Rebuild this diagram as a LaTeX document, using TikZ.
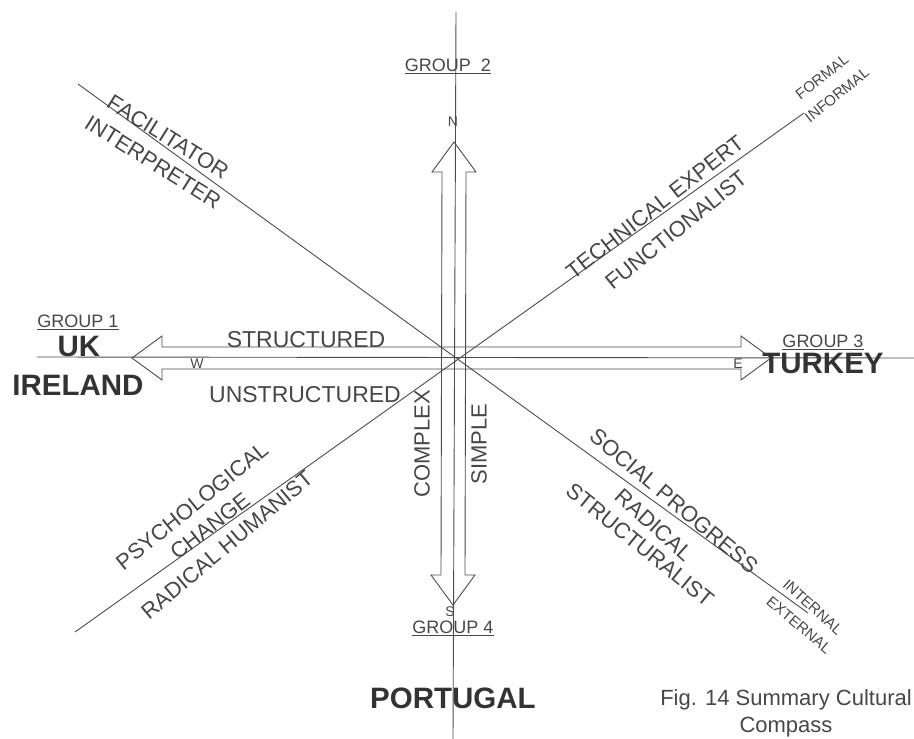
\documentclass[tikz,border=0pt]{standalone}
\usepackage{fontspec}
\setmainfont{Liberation Sans}
\usetikzlibrary{calc}

\begin{document}
\begin{tikzpicture}[
  x=1pt, y=-1pt,
  axis/.style={draw=black!70, line width=0.9pt},
  outline/.style={draw=black!70, line width=0.9pt, line join=miter},
  lbl/.style={text=black!72, inner sep=0pt, font=\fontsize{22}{26}\selectfont},
  hlbl/.style={lbl, font=\fontsize{23}{27}\selectfont},
  small/.style={lbl, font=\fontsize{15}{18}\selectfont},
  pt/.style={lbl, font=\fontsize{14}{16}\selectfont},
  grp/.style={lbl, font=\fontsize{18}{21}\selectfont},
  country/.style={lbl, text=black!80, font=\fontsize{29.5}{34}\selectfont\bfseries},
  caption/.style={lbl, align=center, font=\fontsize{22}{27}\selectfont}
]
\useasboundingbox (0,0) rectangle (914,739);

% Axes and diagonals
\coordinate (top) at (456,12);
\coordinate (bot) at (453,739);
\coordinate (left) at (37,357);
\coordinate (right) at (914,358);
\coordinate (nw) at (78,84);
\coordinate (se) at (808,613);
\coordinate (sw) at (75,632);
\coordinate (ne) at (804,113);

\draw[axis] (top) -- (bot);
\draw[axis] (left) -- (right);
\draw[axis] (nw) -- (se);
\draw[axis] (sw) -- (ne);

% Compass arrows
\coordinate (Wtip) at (132,358);
\coordinate (Etip) at (771,358);
\coordinate (Ntip) at (454,142);
\coordinate (Stip) at (453,605);

\draw[outline] (Wtip) -- ++(30,-22) -- ++(0,11) -- ($(Etip)+(-30,-11)$) -- ++(0,-11)
  -- (Etip) -- ++(-30,22) -- ++(0,-11) -- ($(Wtip)+(30,11)$) -- ++(0,11) -- cycle;
\draw[outline] (Ntip) -- ++(22,30) -- ++(-10,0) -- ($(Stip)+(12,-30)$) -- ++(10,0)
  -- (Stip) -- ++(-22,-30) -- ++(10,0) -- ($(Ntip)+(-12,30)$) -- ++(-10,0) -- cycle;

% Compass points
\node[pt] (n) at (453,122) {N};
\node[pt] (s) at (450,612) {S};
\node[pt] (w) at (197,364) {W};
\node[pt] (e) at (738,364) {E};

% Groups
\node[grp] (g1) at (78,322) {\underline{GROUP 1}};
\node[grp] (g2) at (448,66) {\underline{GROUP\ \ 2}};
\node[grp] (g3) at (823,342) {\underline{GROUP 3}};
\node[grp] (g4) at (453,628) {\underline{GROUP 4}};

\node[country] (uk) at (79,346) {UK};
\node[country] (ireland) at (78,385) {IRELAND};
\node[country] (turkey) at (823,363) {TURKEY};
\node[country] (portugal) at (453,698) {PORTUGAL};

% Axis labels
\node[hlbl] (struct) at (306,340) {STRUCTURED};
\node[hlbl] (unstruct) at (305,395) {UNSTRUCTURED};
\node[lbl, rotate=90] (complex) at (422,444) {COMPLEX};
\node[lbl, rotate=90] (simple) at (479,444) {SIMPLE};

% Diagonal labels
\node[lbl, rotate=-32] (facil) at (168,137) {FACILITATOR};
\node[lbl, rotate=-32] (interp) at (153,162) {INTERPRETER};
\node[lbl, rotate=38] (techexp) at (655,207) {TECHNICAL EXPERT};
\node[lbl, rotate=39] (funct) at (676,230) {FUNCTIONALIST};
\node[small, rotate=38] (formal) at (822,77) {FORMAL};
\node[small, rotate=39] (informal) at (837,95) {INFORMAL};
\node[lbl, rotate=39] (psych) at (192,506) {PSYCHOLOGICAL};
\node[lbl, rotate=38] (change) at (210,526) {CHANGE};
\node[lbl, rotate=40] (radhum) at (227,545) {RADICAL HUMANIST};
\node[lbl, rotate=-40] (socprog) at (674,501) {SOCIAL PROGRESS};
\node[lbl, rotate=-42] (radical) at (654,525) {RADICAL};
\node[lbl, rotate=-39] (structl) at (640,545) {STRUCTURALIST};
\node[small, rotate=-42] (internal) at (813,607) {INTERNAL};
\node[small, rotate=-40] (external) at (799,625) {EXTERNAL};

% Caption
\node[caption] (fig) at (786,713) {Fig. 14 Summary Cultural\\Compass};

\end{tikzpicture}
\end{document}
